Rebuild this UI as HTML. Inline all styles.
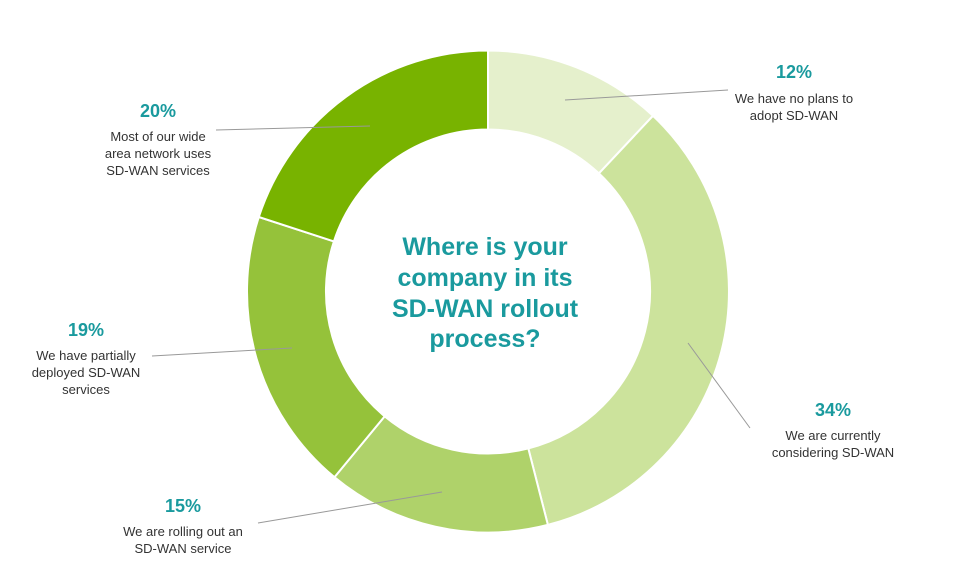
<!DOCTYPE html>
<html><head><meta charset="utf-8"><style>
html,body{margin:0;padding:0;background:#fff;width:974px;height:581px;overflow:hidden}
svg{display:block}
.p{font-family:"Liberation Sans",sans-serif;font-weight:bold;font-size:18px;fill:#1a9a9e}
.l{font-family:"Liberation Sans",sans-serif;font-size:13px;fill:#333}
.t{font-family:"Liberation Sans",sans-serif;font-weight:bold;font-size:25px;fill:#1a9a9e}
</style></head><body>
<svg width="974" height="581" viewBox="0 0 974 581">
<g stroke="#fff" stroke-width="2">
<path d="M488,50.5 A241,241 0 0 1 652.97,115.8 L598.9,173.4 A162,162 0 0 0 488,129.5 Z" fill="#e5f0cc"/>
<path d="M652.97,115.8 A241,241 0 0 1 547.9,524.9 L528.3,448.4 A162,162 0 0 0 598.9,173.4 Z" fill="#cce39c"/>
<path d="M547.9,524.9 A241,241 0 0 1 334.4,477.2 L384.7,416.3 A162,162 0 0 0 528.3,448.4 Z" fill="#afd26a"/>
<path d="M334.4,477.2 A241,241 0 0 1 258.8,217.0 L333.9,241.4 A162,162 0 0 0 384.7,416.3 Z" fill="#95c23a"/>
<path d="M258.8,217.0 A241,241 0 0 1 488,50.5 L488,129.5 A162,162 0 0 0 333.9,241.4 Z" fill="#78b300"/>
</g>
<g stroke="#999" stroke-width="1" fill="none">
<line x1="565" y1="100" x2="728" y2="90"/>
<line x1="370" y1="126" x2="216" y2="130"/>
<line x1="292" y1="348" x2="152" y2="356"/>
<line x1="442" y1="492" x2="258" y2="523"/>
<line x1="688" y1="343" x2="750" y2="428"/>
</g>
<text class="p" x="794" y="78" text-anchor="middle">12%</text>
<text class="l" x="794" y="103" text-anchor="middle">We have no plans to</text>
<text class="l" x="794" y="120" text-anchor="middle">adopt SD-WAN</text>
<text class="p" x="158" y="117" text-anchor="middle">20%</text>
<text class="l" x="158" y="141" text-anchor="middle">Most of our wide</text>
<text class="l" x="158" y="158" text-anchor="middle">area network uses</text>
<text class="l" x="158" y="175" text-anchor="middle">SD-WAN services</text>
<text class="p" x="86" y="336" text-anchor="middle">19%</text>
<text class="l" x="86" y="360" text-anchor="middle">We have partially</text>
<text class="l" x="86" y="377" text-anchor="middle">deployed SD-WAN</text>
<text class="l" x="86" y="394" text-anchor="middle">services</text>
<text class="p" x="833" y="416" text-anchor="middle">34%</text>
<text class="l" x="833" y="440" text-anchor="middle">We are currently</text>
<text class="l" x="833" y="457" text-anchor="middle">considering SD-WAN</text>
<text class="p" x="183" y="512" text-anchor="middle">15%</text>
<text class="l" x="183" y="536" text-anchor="middle">We are rolling out an</text>
<text class="l" x="183" y="553" text-anchor="middle">SD-WAN service</text>
<text class="t" x="485" y="255" text-anchor="middle">Where is your</text>
<text class="t" x="485" y="286" text-anchor="middle">company in its</text>
<text class="t" x="485" y="317" text-anchor="middle">SD-WAN rollout</text>
<text class="t" x="485" y="347" text-anchor="middle">process?</text>
</svg>
</body></html>
